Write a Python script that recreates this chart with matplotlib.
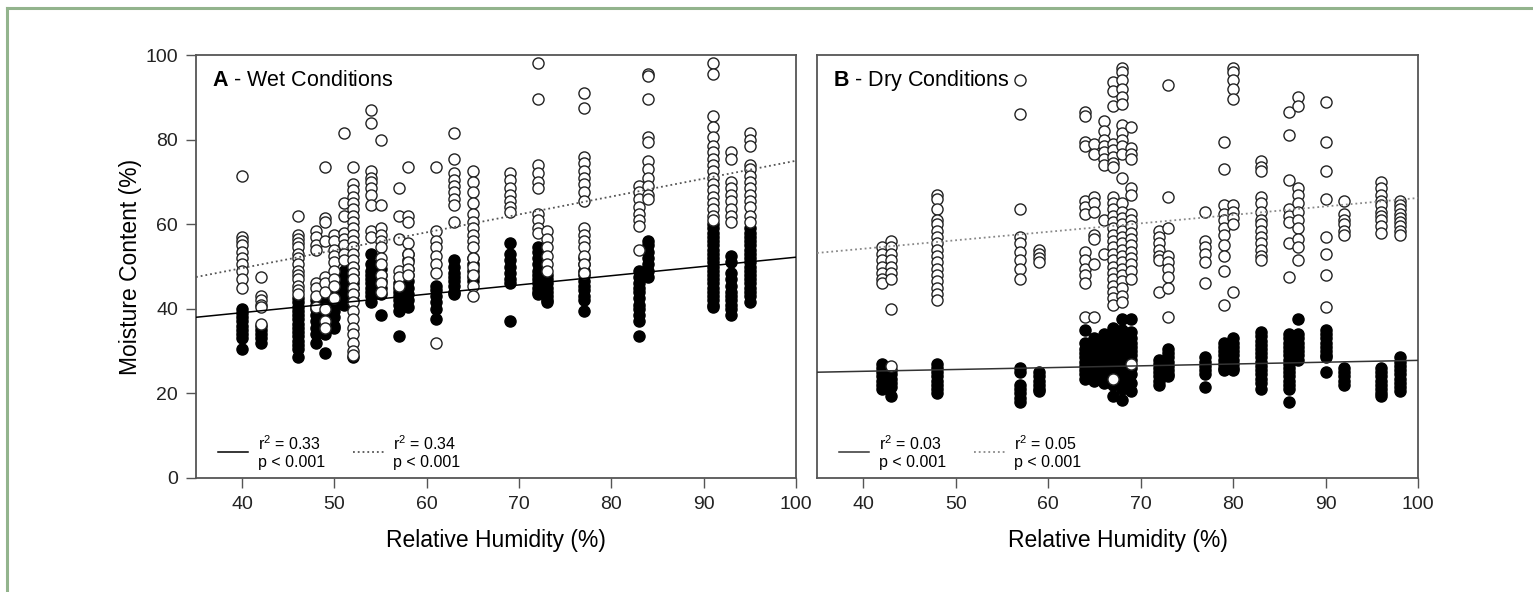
import numpy as np
import matplotlib.pyplot as plt
from matplotlib.lines import Line2D

plt.rcParams['font.family'] = ['Liberation Sans', 'DejaVu Sans']
plt.rcParams['mathtext.fontset'] = 'custom'
plt.rcParams['mathtext.rm'] = 'Liberation Sans'
plt.rcParams['mathtext.it'] = 'Liberation Sans'
plt.rcParams['mathtext.bf'] = 'Liberation Sans:bold'
plt.rcParams['mathtext.default'] = 'regular'

# ---- A: wet conditions ----
wet_rh = [40, 42, 46, 48, 49, 50, 51, 52, 54, 55, 57, 58, 61, 63, 65, 69, 72, 73, 77, 83, 84, 91, 93, 95]
wet_open = [
    [71.5, 57, 56, 55, 53.5, 52, 50.5, 49, 47, 45],
    [47.5, 43, 42, 41, 40.5, 36.5],
    [62, 57.5, 56.5, 55.5, 54.5, 53, 52, 50.5, 49, 48, 47, 45.5, 44.5, 43.5],
    [58.5, 57, 55, 54, 46, 45, 43, 40.5],
    [73.5, 61.5, 60.5, 56, 47.5, 46, 44, 40, 37, 35.5],
    [57.5, 56, 54, 52.5, 51, 49, 47, 45.5, 42.5],
    [81.5, 65, 62, 58, 56.5, 55, 53, 51.5],
    [73.5, 69.5, 68, 66.5, 65, 63.5, 62, 60.5, 59, 57.5, 56, 54.5, 53, 51.5, 50, 48.5, 47, 45,
     43.5, 41.5, 39.5, 37.5, 35.5, 34, 32, 30, 29],
    [87, 84, 72.5, 71, 70, 68.5, 67, 64.5, 58.5, 57],
    [80, 64.5, 59, 57.5, 56, 54.5, 52, 50.5, 48, 46, 44],
    [68.5, 62, 56.5, 49, 47.5, 45.5],
    [73.5, 62, 60.5, 55.5, 53, 51, 49.5, 48],
    [73.5, 58.5, 56, 54.5, 52.5, 50.5, 48.5, 32],
    [81.5, 75.5, 72, 70.5, 69, 67.5, 66, 64.5, 60.5],
    [72.5, 70, 67.5, 65, 62.5, 60.5, 59, 57.5, 56, 54.5, 52, 50, 48, 45.5, 43],
    [72, 70.5, 68.5, 67, 65.5, 64, 63],
    [98, 89.5, 74, 72, 70, 68.5, 62.5, 61, 59, 58],
    [58.5, 56.5, 54.5, 52.5, 50.5, 49],
    [91, 87.5, 76, 74.5, 72.5, 71, 69.5, 67.5, 65.5, 59, 57.5, 56, 54.5, 52.5, 50.5, 48.5],
    [69, 67.5, 66, 64, 62.5, 61, 59.5, 54],
    [95.5, 95, 89.5, 80.5, 79.5, 75, 73, 71, 69, 67, 66],
    [98, 95.5, 85.5, 83, 80.5, 78.5, 77, 75.5, 74, 72.5, 71, 69.5, 68, 66.5, 65, 63.5, 62, 61],
    [77, 75.5, 70, 68.5, 67, 65.5, 63.5, 62, 60.5],
    [81.5, 80, 78.5, 74, 73, 71.5, 70, 68.5, 67, 65.5, 64, 62, 60.5],
]
wet_filled = [
    [40, 39, 38, 37, 36, 35, 34, 33, 30.5],
    [36, 35, 34, 33, 32],
    [42.5, 41.5, 40.5, 39.5, 38.5, 37.5, 36.5, 35.5, 34.5, 33.5, 32.5, 31.5, 30.5, 28.5],
    [42, 41, 40, 38.5, 37, 35.5, 34, 32],
    [44, 42, 40.5, 39, 37.5, 34, 29.5],
    [47, 45.5, 44, 42.5, 41, 39.5, 38, 36, 35.5],
    [49, 47.5, 46, 45, 44, 43, 42, 41],
    [50, 48.5, 47, 46, 45, 43.5, 42, 28.5],
    [53, 50.5, 49, 48, 47, 46, 45, 44, 43, 41.5],
    [49.5, 48, 46.5, 45, 43.5, 38.5],
    [46, 45, 44, 43, 42, 41, 39.5, 33.5],
    [53, 51.5, 49.5, 48, 46.5, 45, 43.5, 42, 40.5],
    [45.5, 44.5, 43, 41.5, 40, 37.5],
    [51.5, 50, 48.5, 47.5, 46.5, 45.5, 44, 43.5],
    [52, 50.5, 49, 47.5, 46.5],
    [55.5, 53, 51.5, 50, 48.5, 47, 46, 37],
    [54.5, 53.5, 52, 50.5, 49, 48, 47, 46, 45, 44, 43.5],
    [48, 47, 46, 45, 44, 43, 42, 41.5],
    [52, 50.5, 49, 48, 46.5, 45.5, 44.5, 43, 42, 39.5],
    [49, 47.5, 46, 45, 44, 42.5, 41, 40, 38.5, 37, 33.5],
    [56, 55, 53.5, 52, 50.5, 49, 47.5],
    [60, 59, 58, 57, 56, 55, 54, 53, 52, 51, 50, 49, 48, 47, 46, 45, 44, 43, 42, 41, 40.5],
    [52.5, 51, 48.5, 47, 45.5, 44, 43, 42, 41, 40, 38.5],
    [59, 58, 57, 56, 55, 54, 53, 52, 51, 50, 49, 48, 47, 46, 45, 44, 43, 41.5],
]
wet_fit_filled = (0.2185, 30.35)   # slope, intercept
wet_fit_open = (0.423, 32.7)
wet_labels = ['r$^2$ = 0.33\np < 0.001', 'r$^2$ = 0.34\np < 0.001']

# ---- B: dry conditions ----
dry_rh = [42, 43, 48, 57, 59, 64, 65, 66, 67, 68, 69, 72, 73, 77, 79, 80, 83, 86, 87, 90, 92, 96, 98]
dry_open = [
    [54.5, 53, 51.5, 50, 48.5, 47, 46],
    [56, 54.5, 53, 51.5, 50, 48.5, 47, 40, 26.5],
    [67, 66, 63.5, 61, 60, 58.5, 57, 55.5, 54, 52.5, 51, 49.5, 48, 46.5, 45, 43.5, 42],
    [94, 86, 63.5, 57, 55.5, 53.5, 51.5, 49.5, 47],
    [54, 53, 52, 51],
    [86.5, 85.5, 79.5, 78.5, 65.5, 64, 62.5, 53.5, 51.5, 49.5, 48, 46, 38],
    [79, 76.5, 66.5, 65, 63, 57.5, 56.5, 50.5, 38],
    [84.5, 82, 80, 78.5, 77, 75.5, 74, 61, 53],
    [93.5, 91.5, 88, 79, 77.5, 76, 74.5, 73.5, 66.5, 65, 63.5, 62, 60.5, 59, 57.5, 56, 54.5, 53,
     51.5, 50, 48.5, 47, 45.5, 44, 42.5, 41, 23.5],
    [97, 96, 94, 92, 90, 88.5, 83.5, 81.5, 80, 78.5, 76.5, 71, 65, 63, 61.5, 60, 58.5, 57, 55.5,
     54, 52.5, 51, 49.5, 48, 46.5, 45, 43, 41.5],
    [83, 78, 76.5, 75.5, 68.5, 67, 62.5, 61, 59.5, 58, 56.5, 55, 53.5, 52, 50.5, 49, 47, 27],
    [58.5, 57, 55.5, 54, 52.5, 51.5, 44],
    [93, 66.5, 59, 52.5, 51, 49.5, 47.5, 45, 38],
    [63, 56, 54.5, 53, 51, 46],
    [79.5, 73, 64.5, 62.5, 61, 59, 57.5, 55, 52.5, 49, 41],
    [97, 96, 94, 92, 89.5, 64.5, 63, 61.5, 60, 44],
    [75, 73.5, 72.5, 66.5, 65, 63, 61, 60, 58.5, 57, 55.5, 54, 52.5, 51.5],
    [86.5, 81, 70.5, 63.5, 62, 60.5, 55.5, 47.5],
    [90, 88, 68.5, 67, 65, 63, 61, 59, 56.5, 54.5, 51.5],
    [89, 79.5, 72.5, 66, 57, 53, 48, 40.5],
    [65.5, 62.5, 61, 60, 58.5, 57.5],
    [70, 68.5, 67, 65.5, 64.5, 63, 62, 61, 59.5, 58],
    [65.5, 64.5, 63.5, 62.5, 61.5, 60.5, 59.5, 58.5, 57.5],
]
dry_filled = [
    [27, 26, 25, 24, 23, 22, 21],
    [25.5, 24.5, 23.5, 22.5, 21.5, 19.5],
    [27, 26, 25, 24, 23, 22, 21, 20],
    [26, 25, 22, 21, 20, 19, 18],
    [25, 24, 23, 22, 21, 20.5],
    [35, 32, 30.5, 29.5, 28.5, 27.5, 26.5, 25.5, 24.5, 23.5],
    [33, 32, 31, 30, 29, 28, 27, 26, 25, 24, 23],
    [34, 33, 32, 31, 30, 29, 28, 27, 26, 25, 24, 22.5],
    [35.5, 34, 33, 32, 31, 30, 29, 28, 27, 26, 25, 24, 22, 19.5],
    [37.5, 35, 33.5, 32.5, 31.5, 30.5, 29.5, 28.5, 27.5, 26.5, 25.5, 24.5, 23, 21, 18.5],
    [37.5, 34.5, 33, 32, 31, 30, 29, 28, 26, 24.5, 22.5, 20.5],
    [28, 27, 26, 25, 24, 23, 22],
    [30.5, 29.5, 28.5, 27.5, 26.5, 25.5, 24.5, 24],
    [28.5, 27.5, 26.5, 25.5, 24.5, 21.5],
    [32, 31, 30, 29, 28, 27, 26, 25.5],
    [33, 32, 31, 30, 29, 28, 27, 26, 25.5],
    [34.5, 33.5, 32.5, 31.5, 30.5, 29.5, 28.5, 27.5, 26.5, 25.5, 24.5, 23.5, 22.5, 21],
    [34, 33, 32, 31, 30, 29, 28, 27, 26, 25, 24, 23, 22, 21, 18],
    [37.5, 34, 33, 32, 31, 30, 29, 28],
    [35, 34, 33, 32, 31, 30, 29, 28.5, 25],
    [26, 25, 24, 23, 22],
    [26, 25, 24, 23, 22, 21, 20, 19.5],
    [28.5, 27.5, 26.5, 25.5, 24.5, 23.5, 22.5, 21.5, 20.5],
]
dry_fit_filled = (0.0431, 23.5)
dry_fit_open = (0.2, 46.2)
dry_labels = ['r$^2$ = 0.03\np < 0.001', 'r$^2$ = 0.05\np < 0.001']

x_ticks = [40, 50, 60, 70, 80, 90, 100]
y_ticks = [0, 20, 40, 60, 80, 100]


def flat(levels, groups):
    xs, ys = [], []
    for x, g in zip(levels, groups):
        xs += [x] * len(g)
        ys += g
    return xs, ys


def panel(ax, rh, opn, fil, fit_fil, fit_opn, labels, title, solid_col, dot_col):
    fx, fy = flat(rh, fil)
    ox, oy = flat(rh, opn)
    ax.plot(fx, fy, 'o', ms=8, mfc='black', mec='black', mew=1.0, ls='none', zorder=2)
    ax.plot(ox, oy, 'o', ms=8, mfc='white', mec='#222222', mew=1.0, ls='none', zorder=3)
    xx = np.array([35, 100])
    l1, = ax.plot(xx, fit_fil[0] * xx + fit_fil[1], '-', color=solid_col, lw=1.1, zorder=4)
    l2, = ax.plot(xx, fit_opn[0] * xx + fit_opn[1], ':', color=dot_col, lw=1.3, zorder=4)
    ax.set_xlim(35, 100)
    ax.set_ylim(0, 100)
    ax.set_xticks(x_ticks)
    ax.text(0.027, 0.94, title, transform=ax.transAxes, fontsize=15.5, va='center', ha='left')
    ax.set_xlabel('Relative Humidity (%)', fontsize=16.5)
    ax.xaxis.set_label_coords(0.5, -0.12)
    for s in ax.spines.values():
        s.set_color('#555555')
        s.set_linewidth(1.3)
    ax.tick_params(direction='out', length=7, width=1.0, color='#555555',
                   labelsize=14, labelcolor='#222222', pad=6)
    ax.legend([l1, l2], labels, loc='lower left', bbox_to_anchor=(0.012, -0.015), ncol=2,
              frameon=False, fontsize=11.5, handlelength=1.9, handletextpad=0.6,
              columnspacing=1.8, labelspacing=0.2)


fig = plt.figure(figsize=(15.33, 5.92), dpi=100)
ax1 = fig.add_axes([196 / 1533, 1 - 478 / 592, 600 / 1533, 423 / 592])
ax2 = fig.add_axes([817 / 1533, 1 - 478 / 592, 601 / 1533, 423 / 592])

panel(ax1, wet_rh, wet_open, wet_filled, wet_fit_filled, wet_fit_open, wet_labels,
      r'$\mathbf{A}$ - Wet Conditions', 'black', '#555555')
ax1.set_yticks(y_ticks)
ax1.set_ylabel('Moisture Content (%)', fontsize=16.5)
ax1.yaxis.set_label_coords(-0.09, 0.5)

panel(ax2, dry_rh, dry_open, dry_filled, dry_fit_filled, dry_fit_open, dry_labels,
      r'$\mathbf{B}$ - Dry Conditions', '#333333', '#888888')
ax2.set_yticks([])

# green frame of the page box
fig.add_artist(Line2D([7 / 1533, 7 / 1533], [0, 1 - 8 / 592], color='#93b48d', lw=2.2,
                      transform=fig.transFigure))
fig.add_artist(Line2D([7 / 1533, 1], [1 - 8 / 592, 1 - 8 / 592], color='#93b48d', lw=2.2,
                      transform=fig.transFigure))

fig.savefig('out.png', dpi=100)
